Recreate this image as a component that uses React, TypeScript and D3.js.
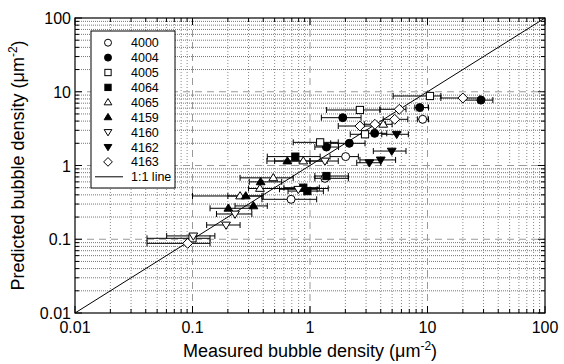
import React from "react";
import * as d3 from "d3";

const W = 564;
const H = 364;

// axis ticks
const majorTicks = [0.01, 0.1, 1, 10, 100];
const majorLabels = ["0.01", "0.1", "1", "10", "100"];
const decades = [0.01, 0.1, 1, 10];
const minorMult = [2, 3, 4, 5, 6, 7, 8, 9];

type P = { x: number; y: number; lo: number; hi: number };

// measured (x), predicted (y), x error range (lo, hi)
const s4000: P[] = [
  { x: 9.1, y: 4.23, lo: 8.2, hi: 10.2 },
  { x: 2.01, y: 1.32, lo: 1.48, hi: 2.58 },
  { x: 1.34, y: 0.67, lo: 1.1, hi: 2.12 },
  { x: 0.69, y: 0.348, lo: 0.39, hi: 1.14 },
];
const s4004: P[] = [
  { x: 28.5, y: 7.7, lo: 20.0, hi: 36.0 },
  { x: 8.6, y: 6.1, lo: 7.8, hi: 10.2 },
  { x: 1.9, y: 4.45, lo: 1.25, hi: 2.72 },
  { x: 3.55, y: 2.73, lo: 2.8, hi: 4.5 },
  { x: 2.16, y: 2.0, lo: 1.5, hi: 2.94 },
  { x: 1.38, y: 1.78, lo: 1.1, hi: 1.75 },
];
const s4005: P[] = [
  { x: 10.5, y: 8.76, lo: 5.1, hi: 13.0 },
  { x: 2.66, y: 5.66, lo: 1.38, hi: 3.94 },
  { x: 2.94, y: 2.65, lo: 2.2, hi: 3.1 },
  { x: 1.22, y: 2.06, lo: 0.72, hi: 1.74 },
  { x: 0.1, y: 0.103, lo: 0.041, hi: 0.141 },
];
const s4064: P[] = [
  { x: 0.75, y: 1.32, lo: 0.433, hi: 1.22 },
  { x: 1.38, y: 0.72, lo: 1.1, hi: 2.12 },
  { x: 0.877, y: 0.5, lo: 0.6, hi: 1.2 },
  { x: 0.95, y: 0.45, lo: 0.65, hi: 1.3 },
];
const s4065: P[] = [
  { x: 4.2, y: 3.62, lo: 3.5, hi: 5.0 },
  { x: 0.877, y: 1.15, lo: 0.5, hi: 1.4 },
  { x: 0.487, y: 0.68, lo: 0.254, hi: 0.72 },
  { x: 0.375, y: 0.488, lo: 0.3, hi: 1.43 },
  { x: 0.254, y: 0.386, lo: 0.1, hi: 0.39 },
];
const s4159: P[] = [
  { x: 0.642, y: 1.15, lo: 0.43, hi: 1.0 },
  { x: 0.38, y: 0.6, lo: 0.304, hi: 0.574 },
  { x: 0.284, y: 0.386, lo: 0.2, hi: 0.4 },
  { x: 0.202, y: 0.263, lo: 0.141, hi: 0.319 },
  { x: 0.33, y: 0.283, lo: 0.23, hi: 0.433 },
];
const s4160: P[] = [
  { x: 1.34, y: 1.15, lo: 1.0, hi: 1.74 },
  { x: 0.795, y: 0.476, lo: 0.55, hi: 1.15 },
  { x: 0.23, y: 0.22, lo: 0.16, hi: 0.32 },
  { x: 0.193, y: 0.156, lo: 0.132, hi: 0.254 },
  { x: 0.1016, y: 0.111, lo: 0.0603, hi: 0.155 },
];
const s4162: P[] = [
  { x: 5.47, y: 2.65, lo: 4.08, hi: 6.87 },
  { x: 4.96, y: 1.57, lo: 3.46, hi: 6.56 },
  { x: 4.0, y: 1.19, lo: 2.66, hi: 5.35 },
  { x: 3.2, y: 1.09, lo: 2.5, hi: 4.0 },
];
const s4163: P[] = [
  { x: 20.0, y: 8.23, lo: 13.0, hi: 28.0 },
  { x: 5.75, y: 5.78, lo: 3.94, hi: 6.56 },
  { x: 5.26, y: 4.23, lo: 4.2, hi: 6.8 },
  { x: 2.66, y: 3.43, lo: 1.74, hi: 3.5 },
  { x: 3.57, y: 3.62, lo: 2.9, hi: 4.4 },
  { x: 0.091, y: 0.088, lo: 0.041, hi: 0.141 },
];

const seriesNames = ["4000", "4004", "4005", "4064", "4065", "4159", "4160", "4162", "4163"];
const seriesData = [s4000, s4004, s4005, s4064, s4065, s4159, s4160, s4162, s4163];
const seriesShapes = ["circle", "circle", "square", "square", "up", "up", "down", "down", "diamond"];
const seriesFilled = [false, true, false, true, false, true, false, true, false];

const PL = 75, PR = 545, PT = 18, PB = 313;
const FONT = "'Liberation Sans', Arial, sans-serif";

function Marker({ shape, filled, cx, cy, s }: { shape: string; filled: boolean; cx: number; cy: number; s: number }) {
  const fill = filled ? "#000" : "#fff";
  const common = { fill, stroke: "#000", strokeWidth: 1 };
  if (shape === "circle") return <circle cx={cx} cy={cy} r={s * 0.5} {...common} />;
  if (shape === "square") return <rect x={cx - s * 0.45} y={cy - s * 0.45} width={s * 0.9} height={s * 0.9} {...common} />;
  if (shape === "up") {
    const h = s * 0.9;
    return <path d={`M${cx},${cy - h * 0.6}L${cx + s * 0.55},${cy + h * 0.4}L${cx - s * 0.55},${cy + h * 0.4}Z`} {...common} />;
  }
  if (shape === "down") {
    const h = s * 0.9;
    return <path d={`M${cx},${cy + h * 0.6}L${cx + s * 0.55},${cy - h * 0.4}L${cx - s * 0.55},${cy - h * 0.4}Z`} {...common} />;
  }
  const r = s * 0.62;
  return <path d={`M${cx},${cy - r}L${cx + r},${cy}L${cx},${cy + r}L${cx - r},${cy}Z`} {...common} />;
}

export default function App() {
  const x = d3.scaleLog().domain([0.01, 100]).range([PL, PR]);
  const y = d3.scaleLog().domain([0.01, 100]).range([PB, PT]);

  const minorVals: number[] = [];
  decades.forEach((d) => minorMult.forEach((m) => minorVals.push(d * m)));
  const majorInner = [0.1, 1, 10];

  const line = d3.line<number>().x((v) => x(v)).y((v) => y(v));

  const legX = 91, legY = 31, legW = 84, legH = 157;
  const legRow = 14.9;

  return (
    <svg width={W} height={H} style={{ position: "absolute", left: 0, top: 0, background: "#fff" }} fontFamily={FONT}>
      <rect x={0} y={0} width={W} height={H} fill="#fff" />
      {/* minor grid */}
      {minorVals.map((v, i) => (
        <line key={"gv" + i} x1={x(v)} x2={x(v)} y1={PT} y2={PB} stroke="#888" strokeWidth={1} strokeDasharray="1,2" />
      ))}
      {minorVals.map((v, i) => (
        <line key={"gh" + i} x1={PL} x2={PR} y1={y(v)} y2={y(v)} stroke="#777" strokeWidth={1} strokeDasharray="1,1" />
      ))}
      {majorInner.map((v, i) => (
        <g key={"gm" + i}>
          <line x1={x(v)} x2={x(v)} y1={PT} y2={PB} stroke="#999" strokeWidth={1} strokeDasharray="7,5" />
          <line x1={PL} x2={PR} y1={y(v)} y2={y(v)} stroke="#999" strokeWidth={1} strokeDasharray="7,5" />
        </g>
      ))}
      {/* 1:1 line */}
      <path d={line([0.01, 100]) || ""} stroke="#000" strokeWidth={1} fill="none" />
      {/* error bars */}
      {seriesData.map((data, si) =>
        data.map((p, i) => (
          <g key={"e" + si + "-" + i} stroke="#000" strokeWidth={1}>
            <line x1={x(p.lo)} x2={x(p.hi)} y1={y(p.y)} y2={y(p.y)} />
            <line x1={x(p.lo)} x2={x(p.lo)} y1={y(p.y) - 3} y2={y(p.y) + 3} />
            <line x1={x(p.hi)} x2={x(p.hi)} y1={y(p.y) - 3} y2={y(p.y) + 3} />
          </g>
        ))
      )}
      {/* markers */}
      {seriesData.map((data, si) =>
        data.map((p, i) => (
          <Marker key={"m" + si + "-" + i} shape={seriesShapes[si]} filled={seriesFilled[si]} cx={x(p.x)} cy={y(p.y)} s={8} />
        ))
      )}
      {/* ticks */}
      {minorVals.map((v, i) => (
        <g key={"t" + i} stroke="#000" strokeWidth={1}>
          <line x1={x(v)} x2={x(v)} y1={PB} y2={PB - 4} />
          <line x1={x(v)} x2={x(v)} y1={PT} y2={PT + 4} />
          <line x1={PL} x2={PL + 4} y1={y(v)} y2={y(v)} />
          <line x1={PR} x2={PR - 4} y1={y(v)} y2={y(v)} />
        </g>
      ))}
      {majorTicks.map((v, i) => (
        <g key={"T" + i} stroke="#000" strokeWidth={1}>
          <line x1={x(v)} x2={x(v)} y1={PB} y2={PB - 7} />
          <line x1={x(v)} x2={x(v)} y1={PT} y2={PT + 7} />
          <line x1={PL} x2={PL + 7} y1={y(v)} y2={y(v)} />
          <line x1={PR} x2={PR - 7} y1={y(v)} y2={y(v)} />
        </g>
      ))}
      {/* frame */}
      <rect x={PL} y={PT} width={PR - PL} height={PB - PT} fill="none" stroke="#000" strokeWidth={1.2} />
      {/* tick labels */}
      {majorTicks.map((v, i) => (
        <text key={"xl" + i} x={x(v)} y={PB + 20} textAnchor="middle" fontSize={16} fill="#000">
          {majorLabels[i]}
        </text>
      ))}
      {majorTicks.map((v, i) => (
        <text key={"yl" + i} x={PL - 4} y={y(v) + 6} textAnchor="end" fontSize={16} fill="#000">
          {majorLabels[i]}
        </text>
      ))}
      {/* axis titles */}
      <text x={(PL + PR) / 2} y={357} textAnchor="middle" fontSize={18} fill="#000">
        Measured bubble density (μm<tspan dy={-7} fontSize={12}>-2</tspan><tspan dy={7}>)</tspan>
      </text>
      <text transform={`translate(24,${(PT + PB) / 2}) rotate(-90)`} textAnchor="middle" fontSize={18} fill="#000">
        Predicted bubble density (μm<tspan dy={-7} fontSize={12}>-2</tspan><tspan dy={7}>)</tspan>
      </text>
      {/* legend */}
      <rect x={legX} y={legY} width={legW} height={legH} fill="#fff" stroke="#000" strokeWidth={1} />
      {seriesNames.map((n, i) => (
        <g key={"lg" + i}>
          <Marker shape={seriesShapes[i]} filled={seriesFilled[i]} cx={108} cy={legY + 11.7 + i * legRow} s={7} />
          <text x={131} y={legY + 11.7 + i * legRow + 4.5} fontSize={12.5} fill="#000">{n}</text>
        </g>
      ))}
      <line x1={95} x2={123} y1={legY + 11.7 + 9 * legRow} y2={legY + 11.7 + 9 * legRow} stroke="#000" strokeWidth={1} />
      <text x={131} y={legY + 11.7 + 9 * legRow + 4.5} fontSize={12.5} fill="#000">1:1 line</text>
    </svg>
  );
}
